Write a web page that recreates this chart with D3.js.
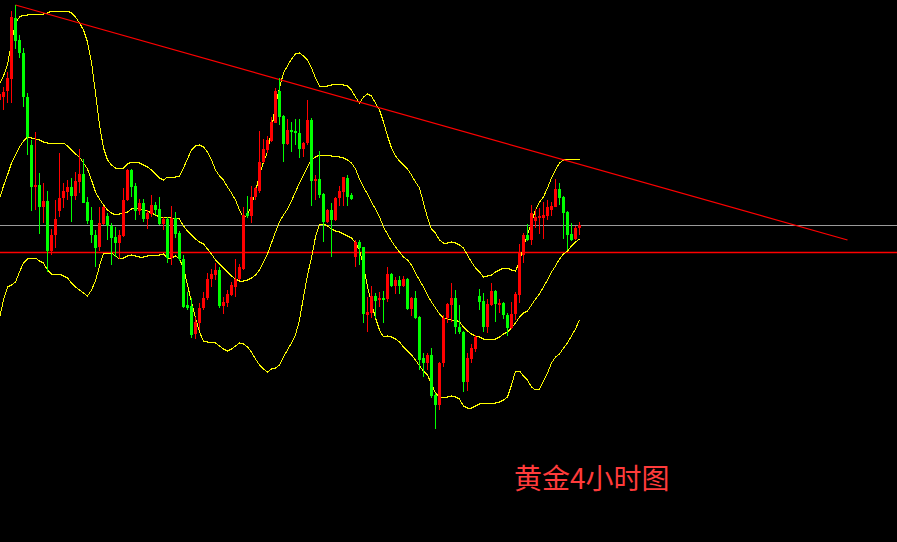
<!DOCTYPE html>
<html><head><meta charset="utf-8">
<script src="https://cdn.jsdelivr.net/npm/d3@7"></script>
<style>html,body{margin:0;padding:0;background:#000;overflow:hidden}</style>
</head><body>
<div id="chart"></div>
<script>
const openV = [
400,403,409,421,482,460,447,403,355,313,
315,293,299,249,265,289,302,308,313,304,
318,326,298,280,265,253,276,284,274,263,
257,264,300,330,314,289,297,281,286,295,
291,276,281,242,282,267,241,195,194,166,
177,192,202,221,225,230,194,197,205,213,
221,231,287,284,303,309,338,350,359,377,
409,384,356,370,369,367,351,357,380,319,
321,306,278,290,280,302,308,322,305,243,
258,253,185,187,204,200,202,201,226,214,
220,214,221,191,202,183,142,137,145,105,
95,137,182,195,202,173,168,118,141,151,
204,199,173,195,209,195,197,185,172,186,
205,245,265,260,279,282,282,284,290,293,
311,303,288,266,261,272];
const highV = [
410,413,428,489,495,465,452,407,360,368,
327,317,309,271,300,347,317,320,322,328,
351,341,303,293,270,293,294,287,277,273,
270,312,331,331,317,301,301,290,305,298,
303,283,283,294,288,269,245,208,202,183,
197,208,227,231,237,233,203,210,218,241,
236,293,304,314,313,369,361,364,383,412,
422,385,381,378,381,381,358,400,382,325,
349,307,291,297,303,314,323,325,307,260,
260,253,203,214,207,208,209,233,227,223,
224,224,222,203,209,184,147,147,152,107,
138,185,197,217,210,195,169,147,156,165,
211,207,201,217,210,201,198,187,198,208,
256,267,276,295,291,292,298,300,298,321,
317,304,289,277,274,278];
const lowV = [
388,390,397,397,451,442,393,345,289,290,
266,277,228,245,252,283,292,300,278,300,
307,297,276,257,233,249,275,260,235,243,
241,263,299,303,280,285,278,271,283,285,
275,270,237,235,262,239,192,190,162,161,
170,190,200,213,220,192,186,193,204,203,
220,230,282,277,300,307,337,347,358,377,
375,338,355,348,355,342,343,355,294,300,
302,258,277,243,279,294,294,294,300,233,
235,177,168,182,182,193,177,198,213,206,
206,213,190,184,181,130,123,130,102,71,
90,133,177,178,166,166,108,109,137,148,
190,168,167,194,178,187,181,164,171,180,
197,237,259,255,272,266,261,280,284,293,
295,261,250,259,260,265];
const closeV = [
406,408,422,483,459,447,403,363,313,315,
293,299,249,265,281,302,309,313,304,319,
326,297,279,265,252,277,293,274,262,257,
265,300,330,313,289,297,281,287,295,290,
276,281,242,282,266,241,193,192,165,178,
192,202,221,226,230,194,198,206,215,221,
233,285,284,303,312,338,351,360,378,409,
383,356,370,368,367,351,357,380,319,321,
305,278,290,280,302,309,323,303,301,258,
252,186,188,204,199,202,200,226,214,220,
214,221,191,202,182,140,137,145,104,95,
137,182,196,202,173,168,118,142,152,163,
198,173,196,209,196,197,185,172,186,206,
247,265,260,287,283,284,285,293,294,311,
302,287,265,260,272,275];
const bbUpper = [
416,424,435,458,477,483,485,485,486,486,
486,486,487,489,489,489,489,489,487,483,
477,470,458,438,407,375,352,340,335,332,
332,332,336,338,338,337,335,333,330,326,
322,320,323,323,323,324,332,341,350,354,
355,353,348,340,330,324,320,313,307,300,
290,282,285,295,308,325,338,348,370,395,
412,427,434,441,446,447,444,440,432,422,
414,414,414,415,416,416,415,414,410,403,
397,403,406,404,397,390,378,364,352,344,
339,335,331,325,318,312,297,282,271,267,
260,257,257,258,257,255,252,245,238,232,
228,223,224,225,228,230,232,232,230,229,
238,254,265,278,290,298,303,312,322,330,
337,340,341,341,341,341];
const bbMiddle = [
301,314,325,337,345,353,359,363,362,361,
360,358,357,357,357,357,357,354,350,346,
343,337,331,320,308,301,295,290,287,285,
286,287,288,291,292,291,290,289,287,285,
283,283,283,282,282,281,274,269,265,261,
258,256,251,246,240,236,232,228,224,221,
219,219,220,222,225,230,238,246,257,268,
278,285,291,299,308,317,325,333,340,343,
345,345,345,344,344,343,342,340,337,331,
321,313,306,298,291,283,273,266,259,253,
248,243,240,235,227,220,213,205,198,192,
186,182,181,180,180,178,173,169,166,164,
163,161,161,161,161,163,166,168,172,177,
183,187,189,195,201,206,213,220,228,234,
241,246,249,254,258,261];
const bbLower = [
182,200,213,215,218,228,237,241,242,242,
239,237,230,226,226,226,224,222,217,213,
210,207,204,210,219,234,247,247,247,244,
241,242,244,245,244,243,243,244,245,245,
245,246,242,242,244,241,232,215,198,182,
168,159,158,158,157,154,151,149,151,154,
157,156,153,148,141,135,131,128,131,132,
135,143,150,157,165,180,203,225,242,263,
276,276,274,271,269,268,266,264,262,257,
250,234,213,197,182,170,163,164,163,161,
158,153,149,145,140,134,129,125,116,107,
103,103,103,104,103,101,94,92,92,94,
96,97,97,96,97,98,100,103,115,129,
129,124,120,113,110,111,119,127,137,143,
146,152,157,164,171,180];
const trendIdx = [4, 212];
const trendVal = [495, 260];
const supportLevel = 247.5;
const grayLevel = 274.5;
const titleText = "黄金4小时图";

const W = 897, H = 542;
const svg = d3.select("#chart").append("svg")
  .attr("width", W).attr("height", H)
  .style("display", "block").style("background", "#000");

const x = d3.scaleLinear().domain([0, 1]).range([-0.5, 3.5]);
const y = d3.scaleLinear().domain([0, 500]).range([500, 0]);

const candles = openV.map((o, i) => ({i, o, h: highV[i], l: lowV[i], c: closeV[i]}));

// horizontal lines
svg.append("line").attr("x1", 0).attr("x2", W)
  .attr("y1", y(grayLevel)).attr("y2", y(grayLevel))
  .attr("stroke", "#9a9a9a").attr("stroke-width", 1).attr("shape-rendering", "crispEdges");
svg.append("line").attr("x1", 0).attr("x2", W)
  .attr("y1", y(supportLevel)).attr("y2", y(supportLevel))
  .attr("stroke", "#ff0000").attr("stroke-width", 1.5);

// Bollinger bands
const line = d3.line().x((d, i) => x(i)).y(d => y(d));
[bbUpper, bbMiddle, bbLower].forEach(arr => {
  svg.append("path").datum(arr).attr("d", line)
    .attr("fill", "none").attr("stroke", "#ffff00").attr("stroke-width", 1)
    .attr("shape-rendering", "crispEdges");
});

// trend line
svg.append("line")
  .attr("x1", x(trendIdx[0])).attr("y1", y(trendVal[0]))
  .attr("x2", x(trendIdx[1])).attr("y2", y(trendVal[1]))
  .attr("stroke", "#ff0000").attr("stroke-width", 1.2);

// candles
const g = svg.append("g").attr("shape-rendering", "crispEdges");
const col = d => d.c >= d.o ? "#ff0000" : "#00ff00";
g.selectAll("rect.wick").data(candles).join("rect").attr("class", "wick")
  .attr("x", d => x(d.i) - 0.5).attr("width", 1)
  .attr("y", d => y(d.h)).attr("height", d => Math.max(1, y(d.l) - y(d.h)))
  .attr("fill", col);
g.selectAll("rect.body").data(candles).join("rect").attr("class", "body")
  .attr("x", d => x(d.i) - 1.5).attr("width", 3)
  .attr("y", d => y(Math.max(d.o, d.c)))
  .attr("height", d => Math.max(1, Math.abs(y(d.o) - y(d.c))))
  .attr("fill", col);

// title
svg.append("text").attr("x", 514).attr("y", 489)
  .attr("font-family", "'Noto Sans CJK SC', sans-serif")
  .attr("font-size", 28).attr("fill", "#ff3b3b")
  .text(titleText);
</script>
</body></html>
